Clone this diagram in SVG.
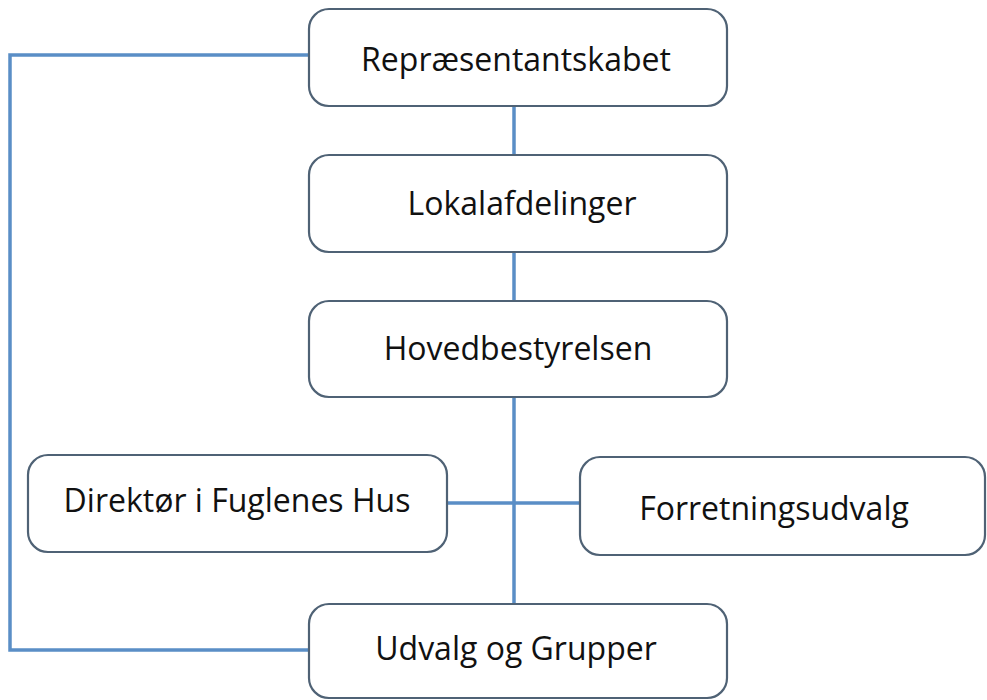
<svg xmlns="http://www.w3.org/2000/svg" width="987" height="700" viewBox="0 0 987 700">
<style>
.box{fill:#ffffff;stroke:#4f6275;stroke-width:2.2}
.lbl{font-family:"Open Sans","Liberation Sans",sans-serif;font-size:32px;fill:#111111;text-anchor:middle}
.con{fill:none;stroke:#5a8ec6;stroke-width:3.5}
</style>
<rect width="987" height="700" fill="#ffffff"/>
<g id="connectors">
<line class="con" x1="514" y1="106" x2="514" y2="604"/>
<line class="con" x1="447" y1="503" x2="580" y2="503"/>
<polyline class="con" points="309,55 10,55 10,650 309,650"/>
</g>
<g id="n1"><rect class="box" x="309" y="9" width="418" height="97" rx="20"/><text class="lbl" x="516" y="71">Repræsentantskabet</text></g>
<g id="n2"><rect class="box" x="309" y="155" width="418" height="97" rx="20"/><text class="lbl" x="522" y="215">Lokalafdelinger</text></g>
<g id="n3"><rect class="box" x="309" y="301" width="418" height="96" rx="20"/><text class="lbl" x="518" y="360">Hovedbestyrelsen</text></g>
<g id="n4"><rect class="box" x="28" y="455" width="419" height="97" rx="20"/><text class="lbl" x="237" y="512">Direktør i Fuglenes Hus</text></g>
<g id="n5"><rect class="box" x="580" y="457" width="405" height="98" rx="20"/><text class="lbl" x="774" y="520">Forretningsudvalg</text></g>
<g id="n6"><rect class="box" x="309" y="604" width="418" height="94" rx="20"/><text class="lbl" x="516" y="660">Udvalg og Grupper</text></g>
</svg>
